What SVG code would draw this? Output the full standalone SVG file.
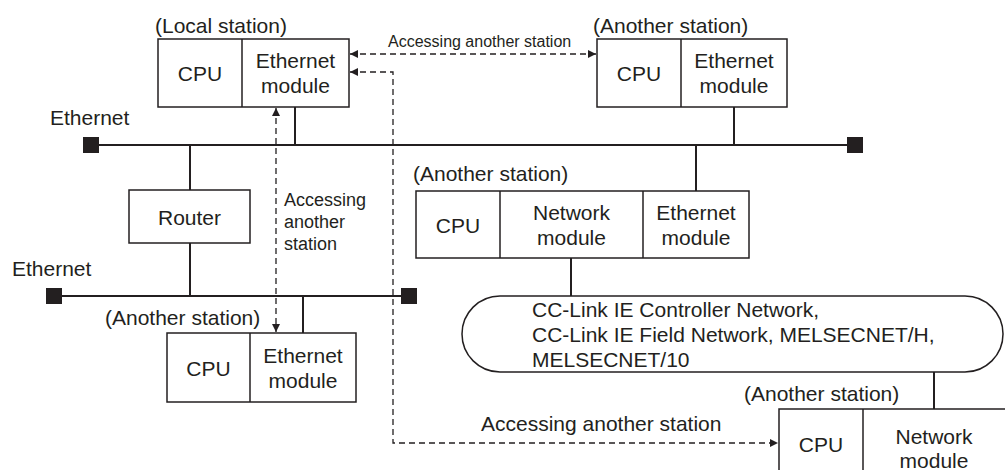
<svg xmlns="http://www.w3.org/2000/svg" width="1005" height="470" viewBox="0 0 1005 470">
<style>
.box{fill:#fff;stroke:#231f20;stroke-width:1.5}
.div{stroke:#231f20;stroke-width:1.5}
.t{font-family:"Liberation Sans",Arial,sans-serif;font-size:21px;fill:#231f20}
.c{text-anchor:middle}
.s{font-size:16px}
.m{font-size:18px}
.bus{stroke:#231f20;stroke-width:2;fill:none}
.dash{stroke:#231f20;stroke-width:1.3;fill:none;stroke-dasharray:6 4}
.term{fill:#231f20}
</style>
<defs>
<marker id="ah" viewBox="0 0 10 10" refX="10" refY="5" markerWidth="9" markerHeight="8" markerUnits="userSpaceOnUse" orient="auto-start-reverse">
<path d="M0 0 L10 5 L0 10 Z" fill="#231f20"/>
</marker>
</defs>

<g id="connectors">
<!-- upper ethernet -->
<line class="bus" x1="99" y1="145" x2="847" y2="145"/>
<rect class="term" x="83" y="137" width="16" height="16"/>
<rect class="term" x="847" y="137" width="16" height="16"/>
<line class="bus" x1="295" y1="107" x2="295" y2="145"/>
<line class="bus" x1="734" y1="107" x2="734" y2="145"/>
<line class="bus" x1="696" y1="145" x2="696" y2="191"/>
<line class="bus" x1="190" y1="145" x2="190" y2="190"/>
<line class="bus" x1="190" y1="243" x2="190" y2="296"/>
<!-- lower ethernet -->
<line class="bus" x1="62" y1="296" x2="401" y2="296"/>
<rect class="term" x="46" y="288" width="16" height="16"/>
<rect class="term" x="401" y="288" width="16" height="16"/>
<line class="bus" x1="303" y1="296" x2="303" y2="333"/>
<!-- network -->
<line class="bus" x1="571" y1="258" x2="571" y2="296"/>
<line class="bus" x1="934" y1="372" x2="934" y2="409"/>
<!-- dashed accesses -->
<line class="dash" x1="350" y1="54" x2="596" y2="54" marker-start="url(#ah)" marker-end="url(#ah)"/>
<line class="dash" x1="276" y1="108" x2="276" y2="332" marker-start="url(#ah)" marker-end="url(#ah)"/>
<polyline class="dash" points="350,72 393,72 393,443 778,443" marker-start="url(#ah)" marker-end="url(#ah)"/>
<text class="t s" x="388" y="47">Accessing another station</text>
<text class="t m" x="284" y="206">Accessing</text>
<text class="t m" x="284" y="228">another</text>
<text class="t m" x="284" y="250">station</text>
<text class="t" x="481" y="431">Accessing another station</text>
<text class="t" x="50" y="125">Ethernet</text>
<text class="t" x="12" y="276">Ethernet</text>
</g>

<g id="local-station">
<text class="t" x="155" y="33">(Local station)</text>
<rect class="box" x="158" y="39" width="191" height="68"/>
<line class="div" x1="242" y1="39" x2="242" y2="107"/>
<text class="t c" x="200" y="81">CPU</text>
<text class="t c" x="295.5" y="68">Ethernet</text>
<text class="t c" x="295.5" y="93">module</text>
</g>

<g id="station-top-right">
<text class="t" x="593" y="33">(Another station)</text>
<rect class="box" x="597" y="39" width="190" height="68"/>
<line class="div" x1="681" y1="39" x2="681" y2="107"/>
<text class="t c" x="639" y="81">CPU</text>
<text class="t c" x="734" y="68">Ethernet</text>
<text class="t c" x="734" y="93">module</text>
</g>

<g id="router">
<rect class="box" x="129" y="190" width="121" height="53"/>
<text class="t c" x="189.5" y="225">Router</text>
</g>

<g id="station-middle">
<text class="t" x="413" y="181">(Another station)</text>
<rect class="box" x="416" y="191" width="333" height="67"/>
<line class="div" x1="500" y1="191" x2="500" y2="258"/>
<line class="div" x1="643" y1="191" x2="643" y2="258"/>
<text class="t c" x="458" y="233">CPU</text>
<text class="t c" x="571.5" y="220">Network</text>
<text class="t c" x="571.5" y="245">module</text>
<text class="t c" x="696" y="220">Ethernet</text>
<text class="t c" x="696" y="245">module</text>
</g>

<g id="station-bottom-left">
<text class="t" x="105" y="325">(Another station)</text>
<rect class="box" x="167" y="333" width="189" height="69"/>
<line class="div" x1="250" y1="333" x2="250" y2="402"/>
<text class="t c" x="208.5" y="376">CPU</text>
<text class="t c" x="303" y="363">Ethernet</text>
<text class="t c" x="303" y="388">module</text>
</g>

<g id="network">
<path class="box" d="M500 296 H965 A38 38 0 0 1 965 372 H500 A38 38 0 0 1 500 296 Z"/>
<text class="t" x="532" y="317">CC-Link IE Controller Network,</text>
<text class="t" x="532" y="342">CC-Link IE Field Network, MELSECNET/H,</text>
<text class="t" x="532" y="367">MELSECNET/10</text>
</g>

<g id="station-bottom-right">
<text class="t" x="744" y="401">(Another station)</text>
<rect class="box" x="779" y="409" width="240" height="75"/>
<line class="div" x1="863" y1="409" x2="863" y2="484"/>
<text class="t c" x="821" y="452">CPU</text>
<text class="t c" x="934" y="444">Network</text>
<text class="t c" x="934" y="468">module</text>
</g>
</svg>
